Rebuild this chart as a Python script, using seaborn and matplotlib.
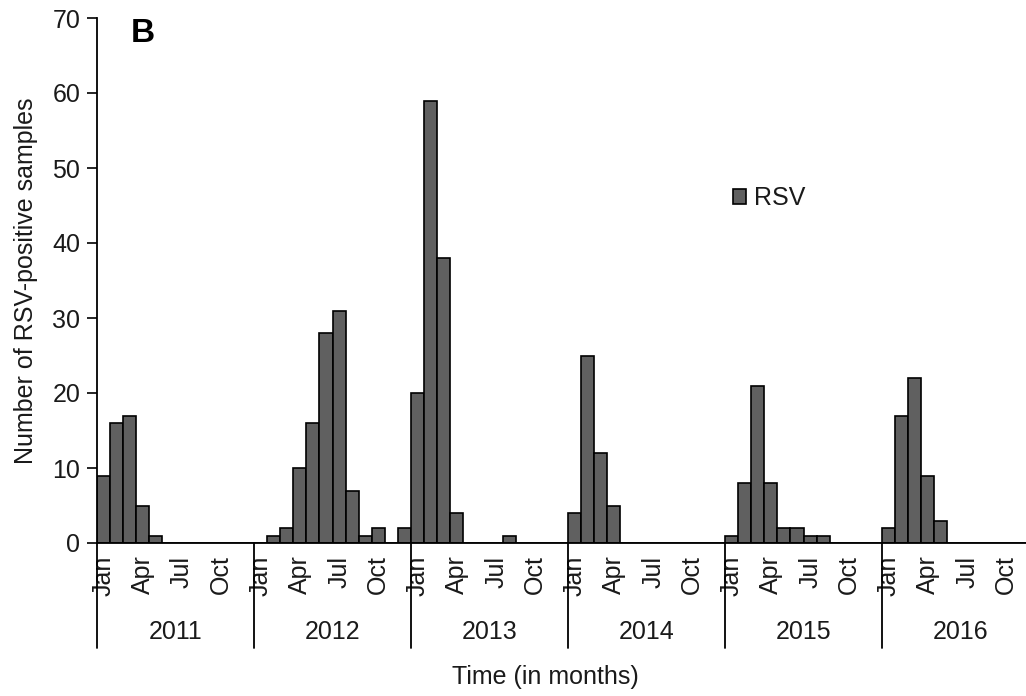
import numpy as np
import pandas as pd
import matplotlib
matplotlib.use("Agg")
import matplotlib.pyplot as plt
import matplotlib.patches as mpatches
import matplotlib.transforms as mtransforms
import seaborn as sns

# Monthly RSV-positive counts, Jan..Dec for each year
years = ['2011', '2012', '2013', '2014', '2015', '2016']
rsv_2011 = [9, 16, 17, 5, 1, 0, 0, 0, 0, 0, 0, 0]
rsv_2012 = [0, 1, 2, 10, 16, 28, 31, 7, 1, 2, 0, 2]
rsv_2013 = [20, 59, 38, 4, 0, 0, 0, 1, 0, 0, 0, 0]
rsv_2014 = [4, 25, 12, 5, 0, 0, 0, 0, 0, 0, 0, 0]
rsv_2015 = [1, 8, 21, 8, 2, 2, 1, 1, 0, 0, 0, 0]
rsv_2016 = [2, 17, 22, 9, 3, 0, 0, 0, 0, 0, 0, 0]
months = ['Jan', 'Feb', 'Mar', 'Apr', 'May', 'Jun',
          'Jul', 'Aug', 'Sep', 'Oct', 'Nov', 'Dec']
shown_months = ['Jan', 'Apr', 'Jul', 'Oct']

counts = rsv_2011 + rsv_2012 + rsv_2013 + rsv_2014 + rsv_2015 + rsv_2016
df = pd.DataFrame({
    'period': [f'{m} {y}' for y in years for m in months],
    'count': counts,
})

sns.set_style('white')
plt.rcParams['font.family'] = ['Liberation Sans', 'DejaVu Sans']
txt = '#1a1a1a'
fs = 18

fig = plt.figure(figsize=(10.26, 6.96), dpi=100)
ax = fig.add_axes([97 / 1026, 1 - 543 / 696, 1 - 97 / 1026, (543 - 18) / 696])

sns.barplot(data=df, x='period', y='count', order=df['period'], width=1.0,
            color='#606060', saturation=1, edgecolor='black', linewidth=1.2, ax=ax)

ax.set_xlim(-0.5, 70.5)
ax.set_ylim(0, 70)
ax.set_yticks(range(0, 71, 10))
ax.tick_params(axis='y', direction='out', length=7, width=1.2, color='black',
               labelsize=fs, labelcolor=txt, pad=5, left=True)

# month tick labels
pos = [i * 12 + months.index(m) for i in range(len(years)) for m in shown_months]
ax.set_xticks(pos)
ax.set_xticklabels([m for _ in years for m in shown_months], rotation=90,
                   fontsize=fs, color=txt)
ax.tick_params(axis='x', length=0, pad=9)
ax.set_xlabel('')
ax.set_ylabel('Number of RSV-positive samples', fontsize=fs, color=txt, labelpad=10)

for s in ['top', 'right']:
    ax.spines[s].set_visible(False)
for s in ['left', 'bottom']:
    ax.spines[s].set_color('black')
    ax.spines[s].set_linewidth(1.3)

# year dividers and year labels
trans = mtransforms.blended_transform_factory(ax.transData, ax.transAxes)
for i, y in enumerate(years):
    x0 = i * 12 - 0.5
    ax.plot([x0, x0], [0, -0.2], transform=trans, color='black', lw=1.3, clip_on=False)
    ax.text(x0 + 6, -0.17, y, transform=trans, ha='center', va='center',
            fontsize=fs, color=txt)

fig.text(545 / 1026, 1 - 677 / 696, 'Time (in months)', ha='center', va='center',
         fontsize=fs, color=txt)
fig.text(131 / 1026, 1 - 33 / 696, 'B', ha='left', va='center',
         fontsize=24, fontweight='bold', color='black')

handle = mpatches.Patch(facecolor='#606060', edgecolor='black', linewidth=1.2, label='RSV')
ax.legend(handles=[handle], loc='center left', frameon=False,
          bbox_to_anchor=(720 / 1026, 1 - 198 / 696), bbox_transform=fig.transFigure,
          fontsize=fs, handlelength=0.55, handleheight=0.55, handletextpad=0.3,
          borderpad=0, labelcolor=txt)

fig.savefig('out.png', dpi=100)
